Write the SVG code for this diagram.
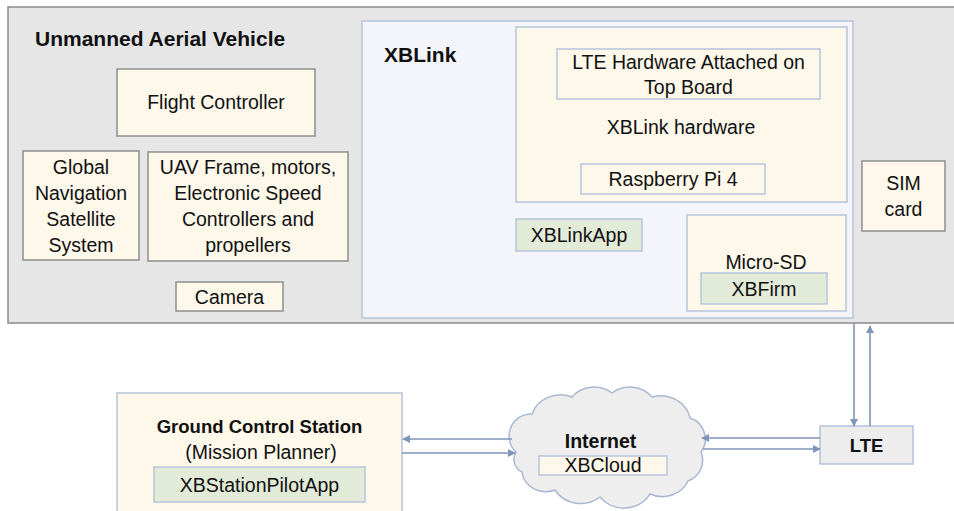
<svg xmlns="http://www.w3.org/2000/svg" width="954" height="511" viewBox="0 0 954 511">
<defs>
<marker id="ah" viewBox="0 0 10 10" refX="9" refY="5" markerWidth="8" markerHeight="8" markerUnits="userSpaceOnUse" orient="auto">
<path d="M0,0 L10,5 L0,10 z" fill="#7f95b8"/>
</marker>
<style>
text{font-family:"Liberation Sans",Arial,sans-serif;fill:#111;}
.t{font-size:19.5px;text-anchor:middle;}
.b{font-weight:bold;}
.title{font-size:21px;font-weight:bold;}
.cream-g{fill:#fdf8ea;stroke:#8e8e8e;stroke-width:1.5;}
.cream-b{fill:#fdf8ea;stroke:#b7c4dc;stroke-width:1.5;}
.green{fill:#e2ebd8;stroke:#b7c4dc;stroke-width:1.5;}
.conn{stroke:#7f95b8;stroke-width:1.6;fill:none;marker-end:url(#ah);}
</style>
</defs>
<rect width="954" height="511" fill="#ffffff"/>

<g id="uav">
<rect x="8" y="7" width="960" height="316" fill="#e6e6e6" stroke="#8a8a8a" stroke-width="1.5"/>
<text class="title" x="35" y="45.5">Unmanned Aerial Vehicle</text>
</g>

<g id="flight-controller">
<rect class="cream-g" x="117" y="69" width="198" height="67"/>
<text class="t" x="216" y="108.5">Flight Controller</text>
</g>

<g id="gnss">
<rect class="cream-g" x="23" y="151" width="116" height="109"/>
<text class="t" x="81" y="174">Global</text>
<text class="t" x="81" y="200">Navigation</text>
<text class="t" x="81" y="226">Satellite</text>
<text class="t" x="81" y="252">System</text>
</g>

<g id="uav-frame">
<rect class="cream-g" x="148" y="152" width="200" height="109"/>
<text class="t" x="248" y="174">UAV Frame, motors,</text>
<text class="t" x="248" y="200">Electronic Speed</text>
<text class="t" x="248" y="226">Controllers and</text>
<text class="t" x="248" y="252">propellers</text>
</g>

<g id="camera">
<rect class="cream-g" x="176" y="282" width="107" height="29"/>
<text class="t" x="229.5" y="303.5">Camera</text>
</g>

<g id="xblink">
<rect x="362" y="21" width="491" height="297" fill="#f4f5fb" stroke="#b7c4dc" stroke-width="1.5"/>
<text class="title" x="384" y="62">XBLink</text>
</g>

<g id="xblink-hardware">
<rect class="cream-b" x="516" y="27" width="331" height="175"/>
<text class="t" x="681" y="133.5">XBLink hardware</text>
</g>

<g id="lte-hardware">
<rect class="cream-b" x="557" y="49" width="263" height="50"/>
<text class="t" x="688.5" y="68.5">LTE Hardware Attached on</text>
<text class="t" x="688.5" y="94">Top Board</text>
</g>

<g id="raspberry-pi">
<rect class="cream-b" x="581" y="164" width="184" height="30"/>
<text class="t" x="673" y="186">Raspberry Pi 4</text>
</g>

<g id="xblinkapp">
<rect class="green" x="516" y="219" width="126" height="32"/>
<text class="t" x="579" y="242">XBLinkApp</text>
</g>

<g id="micro-sd">
<rect class="cream-b" x="687" y="215" width="159" height="96"/>
<text class="t" x="766" y="269">Micro-SD</text>
</g>

<g id="xbfirm">
<rect class="green" x="701" y="273" width="126" height="31"/>
<text class="t" x="764" y="296">XBFirm</text>
</g>

<g id="sim-card">
<rect class="cream-g" x="862" y="161" width="83" height="70"/>
<text class="t" x="903.5" y="190">SIM</text>
<text class="t" x="903.5" y="215.5">card</text>
</g>

<g id="gcs">
<rect class="cream-b" x="117" y="393" width="285" height="130"/>
<text class="t b" x="259.5" y="433" style="font-size:18.5px">Ground Control Station</text>
<text class="t" x="261" y="459">(Mission Planner)</text>
</g>

<g id="xbstationpilotapp">
<rect class="green" x="154" y="467" width="211" height="35"/>
<text class="t" x="259.5" y="492">XBStationPilotApp</text>
</g>

<g id="internet">
<path d="M516,452 A22,22 0 0 1 532,414 A30,28 0 0 1 572,397 A28,26 0 0 1 612,393 A28,26 0 0 1 652,397 A30,28 0 0 1 690,418 A22,22 0 0 1 701,452 A22,22 0 0 1 688,481 A28,26 0 0 1 650,494 A30,28 0 0 1 600,497 A30,28 0 0 1 555,490 A24,22 0 0 1 522,472 A14,14 0 0 1 516,452 Z" fill="#eeeeee" stroke="#a9b8d2" stroke-width="1.5"/>
<text class="t b" x="600.5" y="448" style="font-size:19.5px">Internet</text>
</g>

<g id="xbcloud">
<rect class="cream-b" x="539" y="456" width="128" height="19"/>
<text class="t" x="603" y="472">XBCloud</text>
</g>

<g id="lte">
<rect x="820" y="426" width="93" height="38" fill="#ededed" stroke="#b4c2da" stroke-width="1.5"/>
<text class="t b" x="866.5" y="452" style="font-size:18.5px">LTE</text>
</g>

<g id="connectors">
<line class="conn" x1="512" y1="439" x2="403" y2="439"/>
<line class="conn" x1="402" y1="453" x2="515" y2="453"/>
<line class="conn" x1="820" y1="438" x2="702" y2="438"/>
<line class="conn" x1="703" y1="449" x2="820" y2="449"/>
<line class="conn" x1="854" y1="323" x2="854" y2="426"/>
<line class="conn" x1="870" y1="426" x2="870" y2="326"/>
</g>
</svg>
